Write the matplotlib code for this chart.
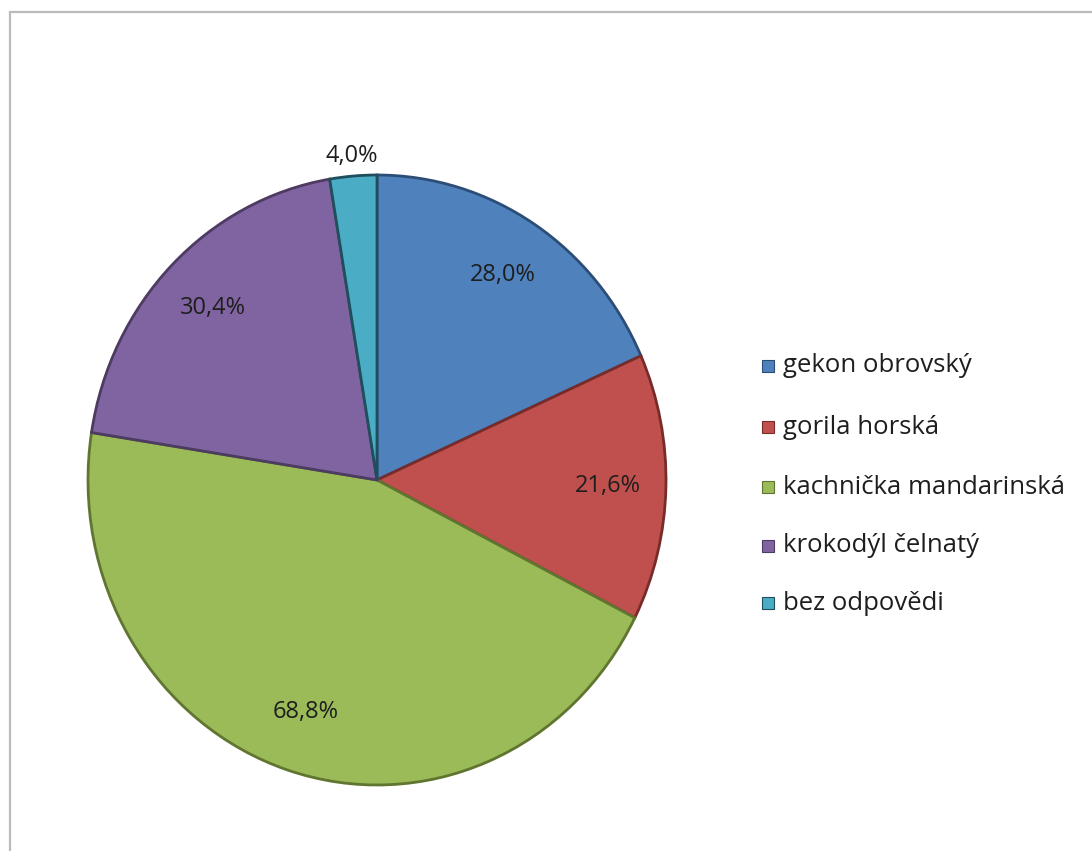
import matplotlib
matplotlib.use("Agg")
import matplotlib.pyplot as plt
import numpy as np
from matplotlib.patches import Rectangle

categories = ["gekon obrovský", "gorila horská", "kachnička mandarinská",
              "krokodýl čelnatý", "bez odpovědi"]
values = [28.0, 21.6, 68.8, 30.4, 4.0]
colors = ["#4F81BD", "#C0504D", "#9BBB59", "#8064A2", "#4BACC6"]
edges = ["#2C4D75", "#772C2A", "#5F7530", "#4D3B62", "#1F4F5C"]

plt.rcParams['font.family'] = ['Open Sans', 'DejaVu Sans']

W, H = 1092, 851
fig = plt.figure(figsize=(W/100, H/100), dpi=100)
fig.patch.set_facecolor("white")

# outer frame
fig.add_artist(Rectangle((10/W, -0.05), 1.2, (H-12)/H + 0.05, transform=fig.transFigure,
                         fill=False, edgecolor="#BBBBBB", linewidth=1.6))

ax = fig.add_axes([88/W, (H-785)/H, 578/W, 610/H])
wedges, _ = ax.pie(values, colors=colors, startangle=90, counterclock=False,
                   radius=1.0, wedgeprops=dict(linewidth=2.0))
for w, ec in zip(wedges, edges):
    w.set_edgecolor(ec)
ax.set_aspect('auto')
ax.set_xlim(-1, 1)
ax.set_ylim(-1, 1)

for i, (w, v) in enumerate(zip(wedges, values)):
    ang = np.deg2rad((w.theta1 + w.theta2) / 2)
    r = 1.065 if v < 5 else 0.8
    ax.text(r*np.cos(ang), r*np.sin(ang), f"{v:.1f}%".replace('.', ','),
            ha='center', va='center', fontsize=17, color="#1E1E1E")

# legend
ys = [366, 427, 487, 546, 603]
for lab, c, ec, y in zip(categories, colors, edges, ys):
    fig.add_artist(Rectangle((762/W, 1 - (y+6)/H), 12/W, 12/H, transform=fig.transFigure,
                             facecolor=c, edgecolor=ec, linewidth=0.8))
    fig.text(783/W, 1 - y/H, lab, fontsize=18.5, color="#1E1E1E", va='center', ha='left')

fig.savefig("out.png", dpi=100)
